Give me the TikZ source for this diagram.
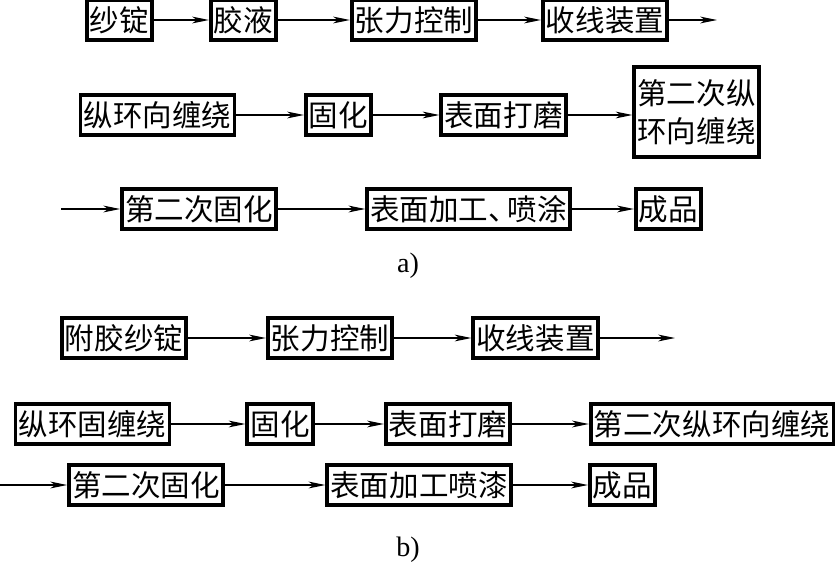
\documentclass[tikz,border=0pt]{standalone}
\usepackage{fontspec}
\setmainfont{Liberation Serif}
\newfontfamily\cjk{Noto Sans CJK SC}
\usepackage{tikz}
\usetikzlibrary{arrows.meta}

\begin{document}
\begin{tikzpicture}[x = 0.025cm, y = -0.025cm,
  box/.style = {draw, line width = 2.6pt, inner xsep = 0.08cm, inner ysep = 0pt,
    minimum height = 1cm, align = center, font = \cjk\fontsize{21}{27}\selectfont},
  arr/.style = {line width = 0.9pt, -{Stealth[length = 0.42cm, width = 0.17cm, inset = 0.12cm]}},
  lab/.style = {font = \fontsize{20}{24}\selectfont}
]
\useasboundingbox (0,0) rectangle (840,565);

% a)
\node[box] (sd)  at (119.5,20) {纱锭};
\node[box] (jy)  at (243.5,20) {胶液};
\node[box] (zl)  at (414,20)   {张力控制};
\node[box] (sx)  at (605,20)   {收线装置};
\coordinate (aend) at (717,20);
\node[box] (zhr) at (157.5,115) {纵环向缠绕};
\node[box] (gh)  at (338.5,115) {固化};
\node[box] (dm)  at (503.5,115) {表面打磨};
\node[box, minimum height = 2.25cm] (zhr2) at (696.5,112) {第二次纵\\环向缠绕};
\coordinate (astart) at (61,209);
\node[box] (gh2) at (199,209)   {第二次固化};
\node[box] (jg)  at (468.5,209) {表面加工、\kern-0.35em 喷涂};
\node[box] (cp)  at (668.5,209) {成品};
\node[lab] (la)  at (408,266)   {a)};

\draw[arr] (sd) -- (jy);
\draw[arr] (jy) -- (zl);
\draw[arr] (zl) -- (sx);
\draw[arr] (sx) -- (aend);
\draw[arr] (zhr) -- (gh);
\draw[arr] (gh) -- (dm);
\draw[arr] (dm) -- (dm -| zhr2.west);
\draw[arr] (astart) -- (gh2);
\draw[arr] (gh2) -- (jg);
\draw[arr] (jg) -- (cp);

% b)
\node[box] (fj)   at (124,338)   {附胶纱锭};
\node[box] (bzl)  at (330,338)   {张力控制};
\node[box] (bsx)  at (535.5,338) {收线装置};
\coordinate (bend) at (675,338);
\node[box] (bzh)  at (92.5,424)  {纵环固缠绕};
\node[box] (bgh)  at (280,424)   {固化};
\node[box] (bdm)  at (448,424)   {表面打磨};
\node[box] (bzh2) at (712,424)   {第二次纵环向缠绕};
\coordinate (bstart) at (0,485);
\node[box] (bgh2) at (146,485)   {第二次固化};
\node[box] (bjg)  at (419,485)   {表面加工喷漆};
\node[box] (bcp)  at (622.5,485) {成品};
\node[lab] (lb)   at (408,550)   {b)};

\draw[arr] (fj) -- (bzl);
\draw[arr] (bzl) -- (bsx);
\draw[arr] (bsx) -- (bend);
\draw[arr] (bzh) -- (bgh);
\draw[arr] (bgh) -- (bdm);
\draw[arr] (bdm) -- (bzh2);
\draw[arr] (bstart) -- (bgh2);
\draw[arr] (bgh2) -- (bjg);
\draw[arr] (bjg) -- (bcp);
\end{tikzpicture}
\end{document}
